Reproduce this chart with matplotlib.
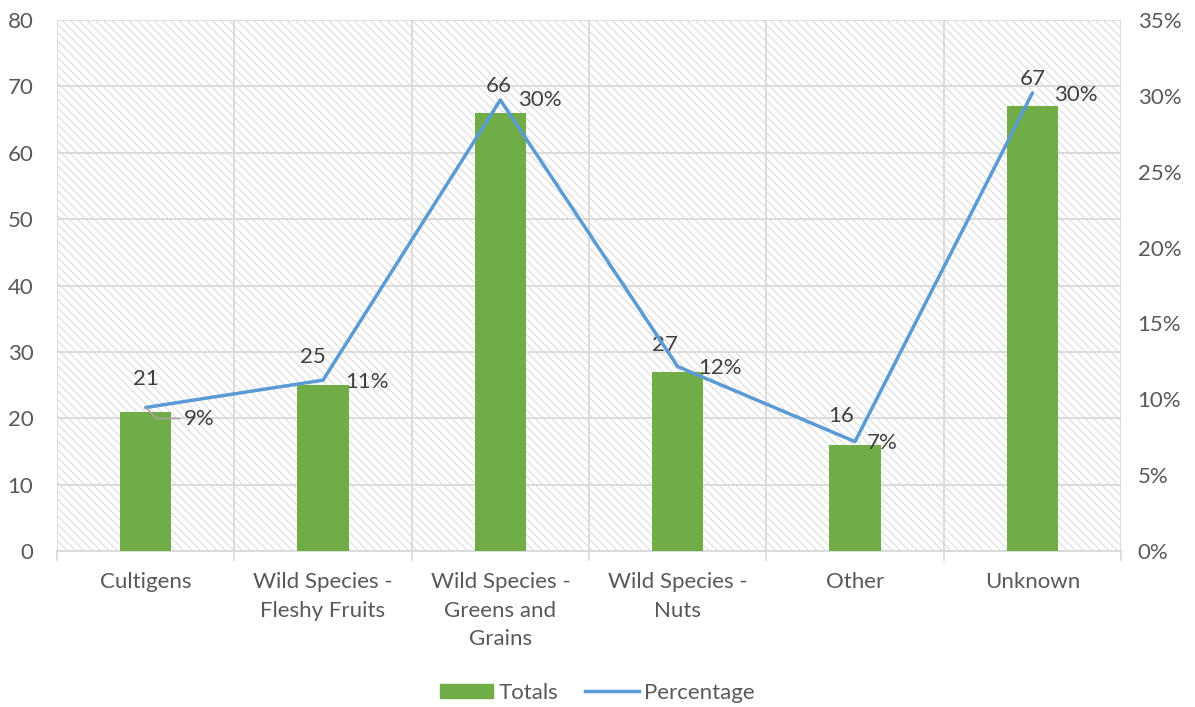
import matplotlib.pyplot as plt
from matplotlib.patches import Rectangle
from matplotlib.lines import Line2D
from matplotlib.ticker import FuncFormatter

plt.rcParams['font.family'] = ['Lato', 'DejaVu Sans']
plt.rcParams['hatch.linewidth'] = 0.6

categories = ['Cultigens', 'Wild Species -\nFleshy Fruits', 'Wild Species -\nGreens and\nGrains',
              'Wild Species -\nNuts', 'Other', 'Unknown']
totals = [21, 25, 66, 27, 16, 67]
percentage = [9.46, 11.26, 29.73, 12.16, 7.21, 30.18]

# label nudges (pixels) so the numbers don't sit on the line
total_dx = [0, -10, -2, -13, -14, 0]
total_dy = [33, 28, 27, 27, 29, 27]
pct_dx = [54, 44, 39, 42, 27, 43]
pct_dy = [-12, -2, 0, -1, -1, -2]

green = '#70AD47'
blue = '#5B9BD5'
grid = '#D9D9D9'
txt = '#595959'
fs = 16

fig = plt.figure(figsize=(11.95, 7.07), dpi=100)
ax = fig.add_axes([57 / 1195, 156 / 707, 1064 / 1195, 531 / 707])
ax2 = ax.twinx()

# hatched plot background
ax.add_patch(Rectangle((0, 0), 1, 1, transform=ax.transAxes, facecolor='white',
                       edgecolor='#D2D2D2', hatch='\\\\\\\\', lw=0, zorder=0))

x = list(range(len(categories)))
ax.bar(x, totals, width=0.29, color=green, zorder=3)
ax.set_xlim(-0.5, 5.5)
ax.set_ylim(0, 80)
ax.set_yticks(range(0, 81, 10))
ax.set_xticks(x)
ax.set_xticklabels(categories, fontsize=fs, color=txt, linespacing=1.55)
ax.set_xticks([i - 0.5 for i in range(len(categories) + 1)], minor=True)
ax.tick_params(axis='x', which='major', length=0, pad=15)
ax.tick_params(axis='x', which='minor', length=7, color=grid, width=1.2)
ax.tick_params(axis='y', length=0, labelsize=fs, labelcolor=txt, pad=17)
ax.grid(axis='y', color=grid, lw=1.3, zorder=1)
ax.grid(axis='x', which='minor', color=grid, lw=1.3, zorder=1)
for s in ax.spines.values():
    s.set_visible(False)
ax.spines['bottom'].set_visible(True)
ax.spines['bottom'].set_color(grid)
ax.spines['bottom'].set_linewidth(1.3)

ax2.plot(x, percentage, color=blue, lw=2.5, zorder=4, solid_capstyle='round')
ax2.set_ylim(0, 35)
ax2.set_yticks(range(0, 36, 5))
ax2.yaxis.set_major_formatter(FuncFormatter(lambda v, p: f'{v:.0f}%'))
ax2.tick_params(axis='y', length=0, labelsize=fs, labelcolor=txt, pad=12)
for s in ax2.spines.values():
    s.set_visible(False)

for i, v in enumerate(totals):
    ax.annotate(str(v), (i, v), xytext=(total_dx[i], total_dy[i]), textcoords='offset pixels',
                ha='center', va='center', fontsize=fs, color='#404040', zorder=6)

for i, p in enumerate(percentage):
    ax2.annotate(f'{p:.0f}%', (i, p), xytext=(pct_dx[i], pct_dy[i]), textcoords='offset pixels',
                 ha='center', va='center', fontsize=fs, color='#404040', zorder=6)

# leader line for the first percentage label
ax2.annotate('', xy=(0, percentage[0]), xytext=(34, -11), textcoords='offset pixels',
             arrowprops=dict(arrowstyle='-', color='#A6A6A6', lw=1.2, shrinkA=0, shrinkB=0,
                             connectionstyle='angle,angleA=180,angleB=-45,rad=0'),
             zorder=5)

handles = [Rectangle((0, 0), 1, 1, color=green),
           Line2D([0], [0], color=blue, lw=2.5)]
fig.legend(handles, ['Totals', 'Percentage'], loc='center', bbox_to_anchor=(0.5, 0.02),
           ncol=2, frameon=False, fontsize=fs, labelcolor=txt, handlelength=2.4,
           handleheight=0.65, columnspacing=1.2, handletextpad=0.25)

fig.savefig('out.png', dpi=100)
